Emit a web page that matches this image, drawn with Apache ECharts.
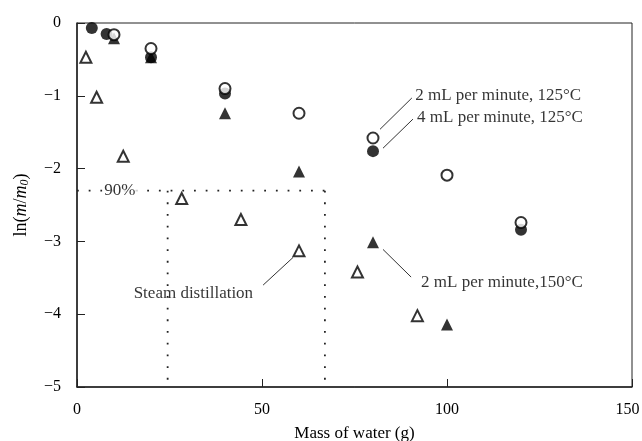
<!DOCTYPE html>
<html>
<head>
<meta charset="utf-8">
<script src="https://cdn.jsdelivr.net/npm/echarts@6/dist/echarts.min.js"></script>
<style>html,body{margin:0;padding:0;background:#fff}#c{width:642px;height:441px}</style>
</head>
<body>
<div id="c"></div>
<script>
// ---- data ----
const openCircles = [[10,-0.16],[20,-0.35],[40,-0.90],[60,-1.24],[80,-1.58],[100,-2.09],[120,-2.74]];
const filledCircles = [[4,-0.07],[8,-0.15],[20,-0.47],[40,-0.97],[80,-1.76],[120,-2.84]];
const filledTriangles = [[10,-0.21],[20,-0.47],[40,-1.24],[60,-2.04],[80,-3.01],[100,-4.14]];
const openTriangles = [[2.4,-0.47],[5.3,-1.02],[12.5,-1.83],[28.3,-2.41],[44.3,-2.70],[60,-3.13],[75.8,-3.42],[92,-4.02]];
const ninetyLevel = -2.303;
const dottedH = [[0,ninetyLevel],[67,ninetyLevel]];
const dottedV1 = [[24.5,ninetyLevel],[24.5,-5]];
const dottedV2 = [[67,ninetyLevel],[67,-5]];
const xTicks = {min:0,max:150,interval:50};
const yTicks = {min:-5,max:0,interval:1};
const annotations = [
  {text:'2 mL per minute, 125°C', pos:[91.4,-0.99], line:[[81.9,-1.46],[90.5,-1.03]]},
  {text:'4 mL per minute, 125°C', pos:[91.9,-1.30], line:[[82.7,-1.72],[90.8,-1.32]]},
  {text:'2 mL per minute,150°C', pos:[93.0,-3.56], line:[[82.7,-3.11],[90.3,-3.49]]},
  {text:'Steam distillation', pos:[47.6,-3.71], line:[[50.3,-3.60],[58.4,-3.22]], align:'right'}
];
const label90 = {text:'90%', pos:[11.6,ninetyLevel]};

// ---- chart ----
const FONT = 'Liberation Serif';
const chart = echarts.init(document.getElementById('c'));
const dotted = {color:'#222', width:1.8, type:[1.8,9.9]};
const series = [
  {type:'line', data:dottedH, symbol:'none', lineStyle:dotted, silent:true, z:1},
  {type:'line', data:dottedV1, symbol:'none', lineStyle:dotted, silent:true, z:1},
  {type:'line', data:dottedV2, symbol:'none', lineStyle:dotted, silent:true, z:1},
  {type:'scatter', data:[label90.pos], symbolSize:0, z:2,
   label:{show:true, formatter:label90.text, position:'inside', fontFamily:FONT, fontSize:17, color:'#000', backgroundColor:'#fff', padding:[0,2]}},
];
annotations.forEach(a=>{
  series.push({type:'line', data:a.line, symbol:'none', lineStyle:{color:'#333', width:1}, silent:true});
  series.push({type:'scatter', data:[a.pos], symbolSize:0,
    label:{show:true, formatter:a.text, position:a.align==='right'?'left':'right', distance:0, fontFamily:FONT, fontSize:17, color:'#000'}});
});
series.push(
  {type:'scatter', data:filledTriangles, symbol:'triangle', symbolSize:12, itemStyle:{color:'#000'}, z:5},
  {type:'scatter', data:openTriangles, symbol:'triangle', symbolSize:11, itemStyle:{color:'#fff', borderColor:'#000', borderWidth:2}, z:5},
  {type:'scatter', data:filledCircles, symbol:'circle', symbolSize:12, itemStyle:{color:'#000'}, z:5},
  {type:'scatter', data:openCircles, symbol:'circle', symbolSize:11, itemStyle:{color:'#fff', borderColor:'#000', borderWidth:2}, z:6}
);
chart.setOption({
  animation:false,
  backgroundColor:'#fff',
  grid:{left:77, right:10, top:23, bottom:54, outerBoundsMode:'none', containLabel:false, show:true, borderColor:'#222', borderWidth:1, backgroundColor:'transparent'},
  xAxis:{type:'value', min:xTicks.min, max:xTicks.max, interval:xTicks.interval,
    name:'Mass of water (g)', nameLocation:'middle', nameGap:38,
    nameTextStyle:{fontFamily:FONT, fontSize:17, color:'#000'},
    axisLine:{show:true, onZero:false, lineStyle:{color:'#222', width:1.5}},
    axisTick:{show:true, inside:true, length:8, lineStyle:{color:'#222'}},
    axisLabel:{fontFamily:FONT, fontSize:16, color:'#000', margin:15,
      formatter:v=>v===xTicks.max?'{r|'+v+'}':String(v),
      rich:{r:{fontFamily:FONT, fontSize:16, color:'#000', padding:[0,9,0,0]}}},
    splitLine:{show:false}},
  yAxis:{type:'value', min:yTicks.min, max:yTicks.max, interval:yTicks.interval,
    name:'{n|ln(}{i|m}{n|/}{i|m}{s|0}{n|)}', nameLocation:'middle', nameGap:46,
    nameTextStyle:{fontFamily:FONT, fontSize:18, color:'#000',
      rich:{n:{fontFamily:FONT, fontSize:18, color:'#000'}, i:{fontFamily:FONT, fontSize:18, fontStyle:'italic', color:'#000'}, s:{fontFamily:FONT, fontSize:12, fontStyle:'italic', color:'#000', padding:[7,0,0,0]}}},
    axisLine:{show:true, onZero:false, lineStyle:{color:'#222', width:1.5}},
    axisTick:{show:true, inside:true, length:8, lineStyle:{color:'#222'}},
    axisLabel:{fontFamily:FONT, fontSize:16, color:'#000', margin:16, formatter:v=>v<0?'\u2212'+Math.abs(v):String(v)},
    splitLine:{show:false}},
  series:series
});
</script>
</body>
</html>
